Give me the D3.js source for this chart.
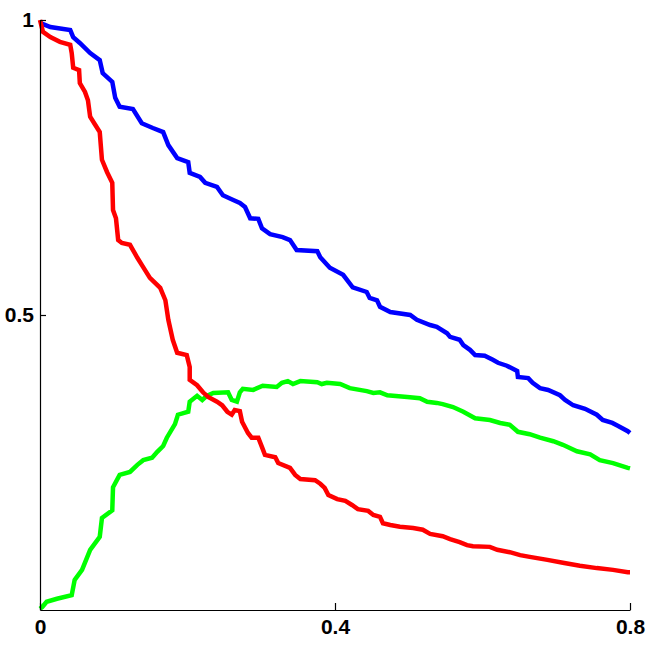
<!DOCTYPE html>
<html>
<head>
<meta charset="utf-8">
<script src="https://cdn.jsdelivr.net/npm/d3@7"></script>
<style>
  html, body { margin: 0; padding: 0; background: #fff; }
  svg { display: block; }
</style>
</head>
<body>
<svg id="chart" width="650" height="650"></svg>
<script>
// x-axis and y-axis ticks
const xTicks = [0, 0.4, 0.8];
const yTicks = [0.5, 1];
const xTickLabels = ["0", "0.4", "0.8"];
const yTickLabels = ["0.5", "1"];

// Blue series
const blueX = [0, 0.014, 0.041, 0.045, 0.054, 0.068, 0.081, 0.085, 0.098, 0.102, 0.108, 0.126, 0.138, 0.153, 0.167, 0.174, 0.186, 0.201, 0.203, 0.217, 0.224, 0.240, 0.248, 0.262, 0.271, 0.278, 0.285, 0.296, 0.301, 0.312, 0.329, 0.339, 0.348, 0.376, 0.380, 0.393, 0.411, 0.424, 0.443, 0.447, 0.457, 0.461, 0.475, 0.502, 0.511, 0.529, 0.538, 0.552, 0.556, 0.569, 0.574, 0.583, 0.590, 0.603, 0.614, 0.621, 0.633, 0.647, 0.648, 0.662, 0.668, 0.678, 0.689, 0.705, 0.712, 0.723, 0.739, 0.755, 0.763, 0.776, 0.784, 0.797, 0.8];
const blueY = [0.995, 0.988, 0.983, 0.971, 0.961, 0.944, 0.932, 0.910, 0.895, 0.868, 0.853, 0.849, 0.825, 0.817, 0.810, 0.788, 0.766, 0.759, 0.741, 0.734, 0.724, 0.717, 0.703, 0.695, 0.690, 0.683, 0.664, 0.663, 0.647, 0.637, 0.632, 0.627, 0.610, 0.608, 0.598, 0.580, 0.568, 0.547, 0.539, 0.529, 0.525, 0.514, 0.505, 0.500, 0.492, 0.483, 0.480, 0.469, 0.463, 0.458, 0.449, 0.441, 0.432, 0.431, 0.424, 0.419, 0.414, 0.405, 0.395, 0.393, 0.385, 0.376, 0.373, 0.364, 0.356, 0.347, 0.341, 0.331, 0.322, 0.317, 0.312, 0.303, 0.300];

// Red series
const redX = [0, 0.004, 0.014, 0.027, 0.041, 0.043, 0.045, 0.053, 0.054, 0.061, 0.065, 0.068, 0.075, 0.081, 0.084, 0.091, 0.098, 0.099, 0.103, 0.106, 0.111, 0.122, 0.132, 0.138, 0.149, 0.163, 0.170, 0.174, 0.180, 0.186, 0.199, 0.203, 0.203, 0.213, 0.221, 0.228, 0.240, 0.247, 0.254, 0.260, 0.264, 0.271, 0.274, 0.282, 0.287, 0.296, 0.301, 0.305, 0.319, 0.323, 0.339, 0.346, 0.353, 0.373, 0.380, 0.386, 0.391, 0.403, 0.414, 0.423, 0.431, 0.445, 0.452, 0.461, 0.465, 0.475, 0.488, 0.506, 0.519, 0.529, 0.546, 0.556, 0.569, 0.579, 0.587, 0.610, 0.620, 0.637, 0.651, 0.664, 0.688, 0.709, 0.732, 0.755, 0.777, 0.797, 0.8];
const redY = [1.0, 0.980, 0.971, 0.963, 0.958, 0.944, 0.919, 0.915, 0.893, 0.878, 0.864, 0.836, 0.822, 0.810, 0.763, 0.742, 0.724, 0.678, 0.664, 0.627, 0.622, 0.619, 0.597, 0.585, 0.563, 0.546, 0.525, 0.492, 0.458, 0.436, 0.432, 0.412, 0.390, 0.381, 0.369, 0.361, 0.353, 0.347, 0.336, 0.331, 0.339, 0.337, 0.319, 0.300, 0.292, 0.292, 0.276, 0.263, 0.259, 0.249, 0.241, 0.229, 0.222, 0.220, 0.214, 0.207, 0.195, 0.188, 0.185, 0.178, 0.171, 0.168, 0.161, 0.158, 0.147, 0.144, 0.141, 0.139, 0.136, 0.129, 0.125, 0.120, 0.115, 0.110, 0.108, 0.107, 0.102, 0.098, 0.093, 0.090, 0.085, 0.080, 0.075, 0.071, 0.068, 0.064, 0.064];

// Green series
const greenX = [0, 0.003, 0.009, 0.023, 0.043, 0.047, 0.057, 0.068, 0.081, 0.084, 0.098, 0.099, 0.108, 0.122, 0.132, 0.140, 0.152, 0.159, 0.167, 0.172, 0.183, 0.187, 0.201, 0.203, 0.213, 0.220, 0.226, 0.235, 0.255, 0.260, 0.267, 0.271, 0.275, 0.289, 0.302, 0.321, 0.328, 0.336, 0.343, 0.353, 0.376, 0.382, 0.389, 0.407, 0.420, 0.443, 0.452, 0.461, 0.471, 0.498, 0.515, 0.525, 0.538, 0.546, 0.560, 0.574, 0.590, 0.610, 0.624, 0.637, 0.648, 0.664, 0.678, 0.696, 0.709, 0.728, 0.746, 0.759, 0.777, 0.797, 0.8];
const greenY = [0.002, 0.005, 0.014, 0.019, 0.025, 0.051, 0.068, 0.102, 0.124, 0.156, 0.169, 0.208, 0.229, 0.234, 0.246, 0.254, 0.258, 0.268, 0.278, 0.292, 0.315, 0.331, 0.336, 0.353, 0.363, 0.356, 0.363, 0.368, 0.369, 0.356, 0.353, 0.369, 0.375, 0.373, 0.380, 0.378, 0.385, 0.388, 0.383, 0.388, 0.386, 0.383, 0.385, 0.383, 0.376, 0.371, 0.368, 0.369, 0.364, 0.361, 0.359, 0.353, 0.351, 0.349, 0.344, 0.336, 0.325, 0.322, 0.317, 0.314, 0.302, 0.298, 0.292, 0.286, 0.280, 0.269, 0.264, 0.254, 0.249, 0.241, 0.240];

const series = [
  { xs: blueX, ys: blueY, color: "#0000ff" },
  { xs: greenX, ys: greenY, color: "#00ff00" },
  { xs: redX, ys: redY, color: "#ff0000" }
];

const svg = d3.select("#chart");
const x = d3.scaleLinear().domain([0, 0.8]).range([40, 630]);
const y = d3.scaleLinear().domain([0, 1]).range([610, 20]);

const line = d3.line()
  .x(d => x(d[0]))
  .y(d => y(d[1]))
  .curve(d3.curveLinear);

series.forEach(s => {
  const pts = s.xs.map((v, i) => [v, s.ys[i]]);
  svg.append("path")
    .attr("d", line(pts))
    .attr("fill", "none")
    .attr("stroke", s.color)
    .attr("stroke-width", 4.5)
    .attr("stroke-linejoin", "miter")
    .attr("stroke-linecap", "butt");
});

// Axes
const xAxis = d3.axisBottom(x)
  .tickValues(xTicks)
  .tickFormat((d, i) => xTickLabels[i])
  .tickSizeInner(-7)
  .tickSizeOuter(0)
  .tickPadding(9);
const yAxis = d3.axisLeft(y)
  .tickValues(yTicks)
  .tickFormat((d, i) => yTickLabels[i])
  .tickSizeInner(-6)
  .tickSizeOuter(0)
  .tickPadding(6);

const gx = svg.append("g").attr("transform", "translate(0,610)").call(xAxis);
const gy = svg.append("g").attr("transform", "translate(40,0)").call(yAxis);

[gx, gy].forEach(g => {
  g.select(".domain").attr("stroke", "#000").attr("stroke-width", 1.2);
  g.selectAll(".tick line").attr("stroke", "#000").attr("stroke-width", 1.2);
  g.selectAll(".tick text")
    .attr("fill", "#000")
    .style("font-family", "'Liberation Sans', Arial, sans-serif")
    .style("font-size", "21px")
    .style("font-weight", "bold");
});
</script>
</body>
</html>
